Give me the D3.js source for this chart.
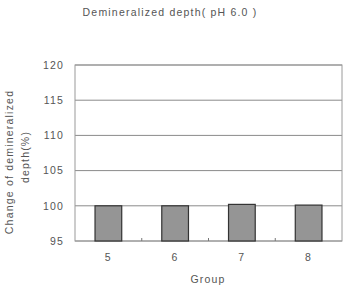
<!DOCTYPE html>
<html>
<head>
<meta charset="utf-8">
<script src="https://cdn.jsdelivr.net/npm/d3@7"></script>
<style>
body { margin: 0; background: #fff; }
text { font-family: "Liberation Sans", Arial, sans-serif; fill: #555; letter-spacing: 1.2px; }
</style>
</head>
<body>
<script>
var groups = ["5", "6", "7", "8"];
var values = [100.0, 100.0, 100.2, 100.1];
var yTicks = [95, 100, 105, 110, 115, 120];

var width = 352, height = 291;
var margin = {top: 65, left: 75, right: 10, bottom: 50};

var svg = d3.select("body").append("svg")
    .attr("width", width)
    .attr("height", height);

var x = d3.scaleBand()
    .domain(groups)
    .range([margin.left, width - margin.right])
    .paddingInner(0.6)
    .paddingOuter(0.3);

var y = d3.scaleLinear()
    .domain([95, 120])
    .range([height - margin.bottom, margin.top]);

// gridlines
svg.append("g")
    .selectAll("line")
    .data(yTicks)
    .enter().append("line")
    .attr("x1", margin.left)
    .attr("x2", width - margin.right)
    .attr("y1", d => y(d))
    .attr("y2", d => y(d))
    .attr("stroke", "#8a8a8a")
    .attr("stroke-width", 1);

// frame
svg.append("rect")
    .attr("x", margin.left)
    .attr("y", y(120))
    .attr("width", width - margin.right - margin.left)
    .attr("height", y(95) - y(120))
    .attr("fill", "none")
    .attr("stroke", "#9a9a9a");

// bars
svg.append("g")
    .selectAll("rect")
    .data(values)
    .enter().append("rect")
    .attr("x", (d, i) => x(groups[i]))
    .attr("y", d => y(d))
    .attr("width", x.bandwidth())
    .attr("height", d => y(95) - y(d))
    .attr("fill", "#959595")
    .attr("stroke", "#333")
    .attr("stroke-width", 1.2);

// category boundary ticks
var outer = (width - margin.right - margin.left) / groups.length;
svg.append("g")
    .selectAll("line")
    .data(groups.slice(1))
    .enter().append("line")
    .attr("x1", (d, i) => margin.left + outer * (i + 1))
    .attr("x2", (d, i) => margin.left + outer * (i + 1))
    .attr("y1", y(95))
    .attr("y2", y(95) - 3)
    .attr("stroke", "#777");

// y axis
var yAxis = svg.append("g")
    .attr("transform", "translate(" + margin.left + ",0)")
    .call(d3.axisLeft(y).tickValues(yTicks).tickSize(0).tickPadding(11));
yAxis.select(".domain").remove();
yAxis.selectAll("text").style("font-size", "10.5px").attr("fill", "#555");

// x axis
var xAxis = svg.append("g")
    .attr("transform", "translate(0," + y(95) + ")")
    .call(d3.axisBottom(x).tickSize(0).tickPadding(13));
xAxis.select(".domain").remove();
xAxis.selectAll("text").style("font-size", "10.5px").attr("fill", "#555");

// titles
svg.append("text")
    .attr("x", 170)
    .attr("y", 16)
    .attr("text-anchor", "middle")
    .style("font-size", "10.5px")
    .text("Demineralized depth( pH 6.0 )");

svg.append("text")
    .attr("x", 208)
    .attr("y", 283)
    .attr("text-anchor", "middle")
    .style("font-size", "10.5px")
    .text("Group");

svg.append("text")
    .attr("transform", "translate(13,162) rotate(-90)")
    .attr("text-anchor", "middle")
    .style("font-size", "10.5px")
    .text("Change of demineralized");

svg.append("text")
    .attr("transform", "translate(29,157) rotate(-90)")
    .attr("text-anchor", "middle")
    .style("font-size", "10.5px")
    .text("depth(%)");
</script>
</body>
</html>
